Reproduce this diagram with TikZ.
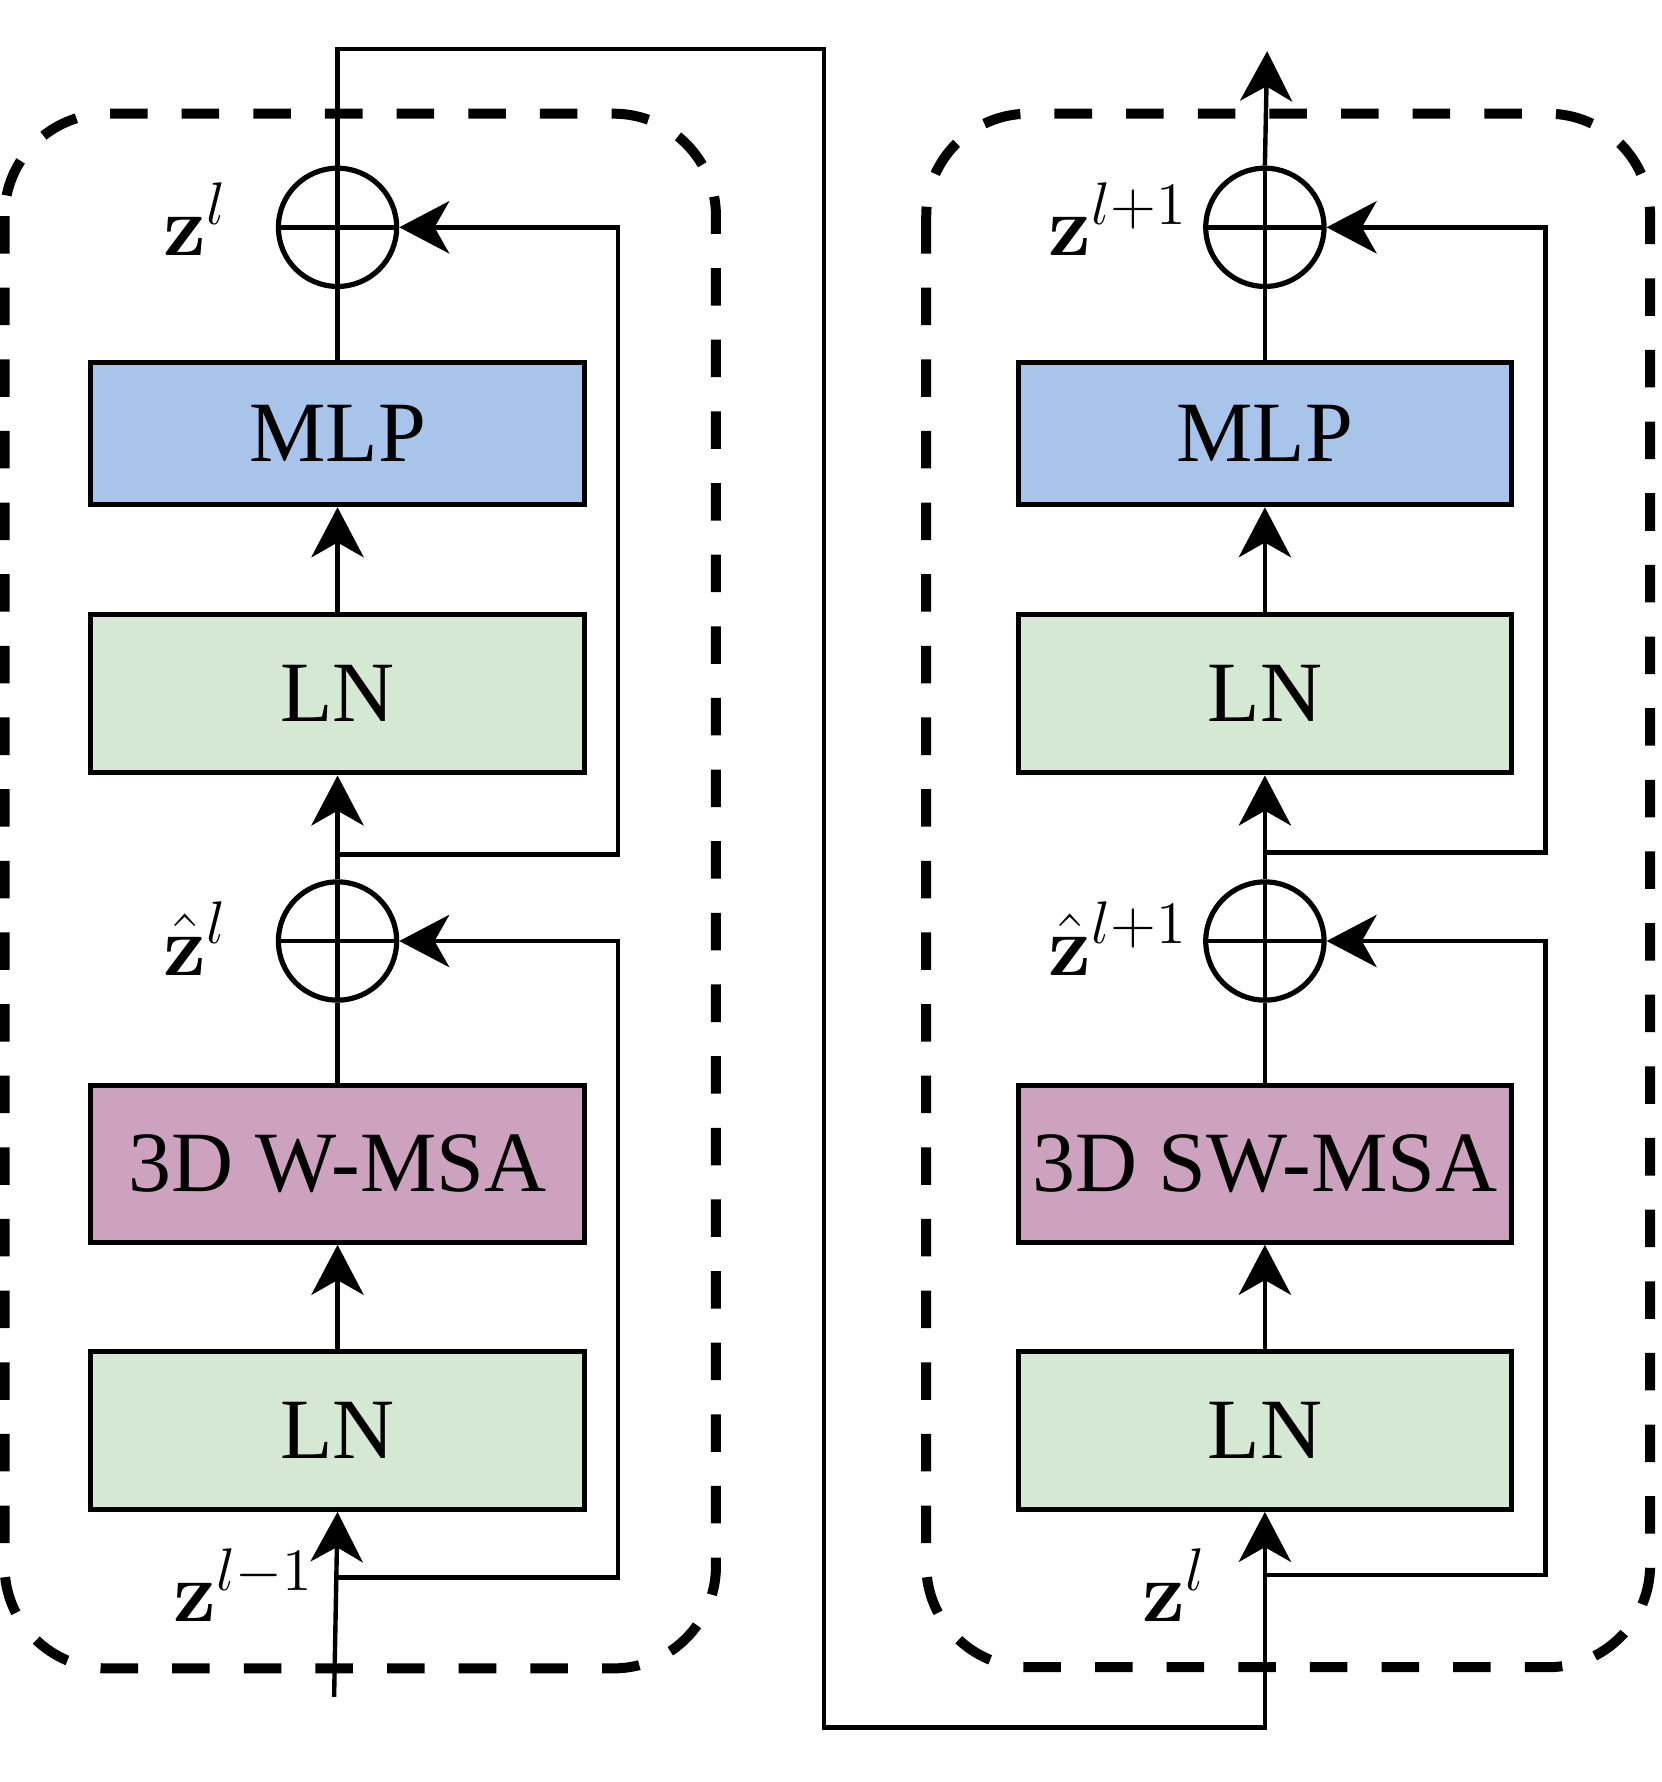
\RequirePackage{fix-cm}
\documentclass[tikz,border=0pt]{standalone}
\usepackage{amsmath,bm}
\usepackage[no-math]{fontspec}
\setmainfont{Liberation Serif}
\usetikzlibrary{arrows.meta}
\definecolor{mlpblue}{HTML}{A9C4EB}
\definecolor{lngreen}{HTML}{D5E8D4}
\definecolor{msapurple}{HTML}{CDA2BE}
\begin{document}
\begin{tikzpicture}[x=0.01cm,y=-0.01cm,
  blk/.style={draw, line width=1.3pt, minimum width=4.34cm, inner sep=0pt, font=\fontsize{21.5}{26}\selectfont},
  lnbox/.style={blk, fill=lngreen, minimum height=1.39cm},
  mlpbox/.style={blk, fill=mlpblue, minimum height=1.25cm},
  msabox/.style={blk, fill=msapurple, minimum height=1.38cm},
  addop/.style={circle, draw, line width=1.3pt, minimum size=1.04cm, inner sep=0pt,
    path picture={\draw[line width=1.1pt] (path picture bounding box.north) -- (path picture bounding box.south) (path picture bounding box.west) -- (path picture bounding box.east);}},
  conn/.style={line width=1.1pt},
  arr/.style={conn, -{Stealth[length=0.44cm,width=0.46cm,inset=0.13cm]}},
  grp/.style={line width=2.5pt, dash pattern=on 0.33cm off 0.30cm, rounded corners=0.9cm},
  lbl/.style={font=\fontsize{21.5}{26}\selectfont, inner sep=0pt, anchor=base west}
]
\useasboundingbox (0,0) rectangle (1462,1568);

% dashed groups
\draw[grp] (4,100) rectangle (630,1468);
\draw[grp] (815,100) rectangle (1452,1467);

% left block
\node[mlpbox] (mlpL) at (297,381.5) {MLP};
\node[lnbox] (ln2L) at (297,610.5) {LN};
\node[msabox] (msaL) at (297,1024) {3D W-MSA};
\node[lnbox] (ln1L) at (297,1258.5) {LN};
\node[addop] (add1L) at (297,828) {};
\node[addop] (add2L) at (297,200) {};

% right block
\node[mlpbox] (mlpR) at (1113,381.5) {MLP};
\node[lnbox] (ln2R) at (1113,610.5) {LN};
\node[msabox] (msaR) at (1113,1024) {3D SW-MSA};
\node[lnbox] (ln1R) at (1113,1258.5) {LN};
\node[addop] (add1R) at (1113,828) {};
\node[addop] (add2R) at (1113,200) {};

% labels
\node[lbl] (lz2L) at (143,225) {$\mathbf{z}^{l}$};
\node[lbl] (lz1L) at (143,858) {$\hat{\mathbf{z}}^{l}$};
\node[lbl] (lz0L) at (152,1427) {$\mathbf{z}^{l-1}$};
\node[lbl] (lz2R) at (922,225) {$\mathbf{z}^{l+1}$};
\node[lbl] (lz1R) at (922,858) {$\hat{\mathbf{z}}^{l+1}$};
\node[lbl] (lz0R) at (1005,1427) {$\mathbf{z}^{l}$};

% coordinates
\coordinate (inL) at (294,1493);
\coordinate (r1L) at (297,1388);
\coordinate (r2L) at (297,752);
\coordinate (r1R) at (1113,1386);
\coordinate (r2R) at (1113,750);
\coordinate (outR) at (1115,45);

% left connectors
\draw[arr] (inL) -- (ln1L.south);
\draw[arr] (ln1L) -- (msaL);
\draw[conn] (msaL) -- (add1L);
\draw[arr] (add1L) -- (ln2L);
\draw[arr] (ln2L) -- (mlpL);
\draw[conn] (mlpL) -- (add2L);
\draw[arr] (r1L) -- (544,1388) -- (544,828) -- (add1L.east);
\draw[arr] (r2L) -- (544,752) -- (544,200) -- (add2L.east);

% link between blocks
\draw[arr] (add2L.north) -- (297,43) -- (725,43) -- (725,1520) -- (1113,1520) -- (ln1R.south);

% right connectors
\draw[arr] (ln1R) -- (msaR);
\draw[conn] (msaR) -- (add1R);
\draw[arr] (add1R) -- (ln2R);
\draw[arr] (ln2R) -- (mlpR);
\draw[conn] (mlpR) -- (add2R);
\draw[arr] (r1R) -- (1360,1386) -- (1360,828) -- (add1R.east);
\draw[arr] (r2R) -- (1360,750) -- (1360,200) -- (add2R.east);
\draw[arr] (add2R.north) -- (outR);
\end{tikzpicture}
\end{document}
